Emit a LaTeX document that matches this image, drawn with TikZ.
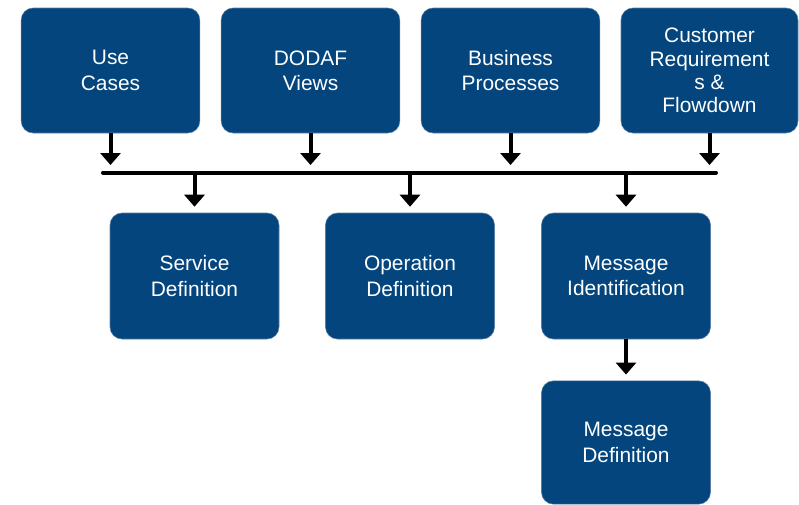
\documentclass[tikz,border=0pt]{standalone}
\usepackage{fontspec}
\setmainfont{Liberation Sans}
\usetikzlibrary{arrows.meta}
\definecolor{boxblue}{HTML}{03457C}
\definecolor{boxedge}{HTML}{5A7FA6}
\begin{document}
\begin{tikzpicture}[x=0.75pt,y=-0.75pt,
  blk/.style={fill=boxblue,draw=boxedge,line width=0.4pt,rounded corners=9pt,
    text=white,align=center,inner sep=0pt,
    font=\fontsize{15.7}{19}\selectfont},
  toprow/.style={blk,minimum width=134pt,minimum height=93.75pt},
  midrow/.style={blk,minimum width=126.75pt,minimum height=94.5pt},
  flow/.style={line width=3pt,-{Triangle[width=15pt,length=9pt]}},
  bus/.style={line width=3pt,line cap=round}]
\useasboundingbox (0,0) rectangle (799,504);
% top row
\node[toprow] (uc) at (110.5,70.5) {Use\\Cases};
\node[toprow] (dv) at (310.5,70.5) {DODAF\\Views};
\node[toprow] (bp) at (510.5,70.5) {Business\\Processes};
\node[toprow,minimum width=132.75pt,font=\fontsize{15.7}{17.4}\selectfont] (cr) at (709.5,70.5) {Customer\\Requirement\\s \&\\Flowdown};
% bus
\coordinate (busL) at (103,172.5);
\coordinate (busR) at (716,172.5);
\draw[bus] (busL) -- (busR);
% middle row
\node[midrow] (sd) at (194.5,276) {Service\\Definition};
\node[midrow] (od) at (410,276) {Operation\\Definition};
\node[midrow] (mi) at (626,276) {Message\\Identification};
% bottom
\node[blk,minimum width=126.75pt,minimum height=92.5pt] (md) at (626,442.5) {Message\\Definition};
% arrows into the bus
\foreach \n in {uc,dv,bp,cr}
  \draw[flow,shorten >=5.6pt] (\n.south) -- (\n.south |- busL);
% arrows out of the bus
\foreach \n in {sd,od,mi}
  \draw[flow,shorten >=4.5pt] (\n.north |- busL) -- (\n.north);
\draw[flow,shorten >=4.5pt] (mi.south) -- (md.north);
\end{tikzpicture}
\end{document}
